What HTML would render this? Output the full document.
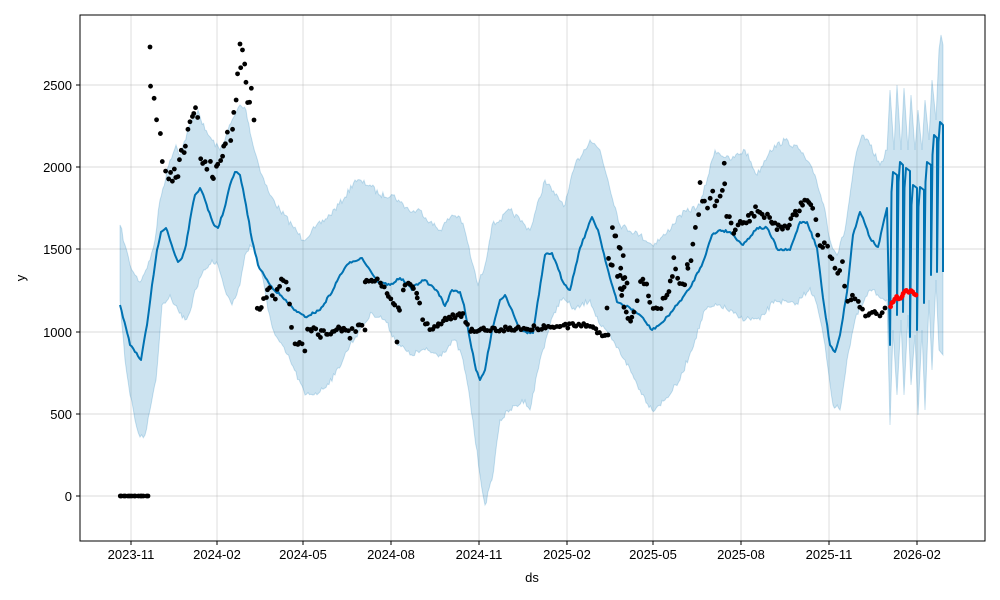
<!DOCTYPE html>
<html><head><meta charset="utf-8"><style>
body{margin:0;background:#fff;}
svg{display:block;font-family:"Liberation Sans","DejaVu Sans",sans-serif;}
</style></head><body>
<svg id="s" width="1000" height="600" viewBox="0 0 1000 600" xmlns="http://www.w3.org/2000/svg">
<rect width="1000" height="600" fill="#fff"/>
<g stroke="#b0b0b0" stroke-opacity="0.45" stroke-width="0.9">
<line x1="131" y1="15" x2="131" y2="541"/><line x1="217" y1="15" x2="217" y2="541"/>
<line x1="303" y1="15" x2="303" y2="541"/><line x1="391" y1="15" x2="391" y2="541"/>
<line x1="479" y1="15" x2="479" y2="541"/><line x1="567" y1="15" x2="567" y2="541"/>
<line x1="653" y1="15" x2="653" y2="541"/><line x1="741" y1="15" x2="741" y2="541"/>
<line x1="829" y1="15" x2="829" y2="541"/><line x1="917" y1="15" x2="917" y2="541"/>
<line x1="80" y1="496" x2="985" y2="496"/><line x1="80" y1="414" x2="985" y2="414"/>
<line x1="80" y1="332" x2="985" y2="332"/><line x1="80" y1="249" x2="985" y2="249"/>
<line x1="80" y1="167" x2="985" y2="167"/><line x1="80" y1="85" x2="985" y2="85"/>
</g>
<g id="band"></g>
<g id="line"></g>
<g id="dots"></g>
<rect x="80" y="15" width="905" height="526" fill="none" stroke="#000" stroke-width="1"/>
<g stroke="#000" stroke-width="1">
<line x1="131" y1="541" x2="131" y2="545"/><line x1="217" y1="541" x2="217" y2="545"/>
<line x1="303" y1="541" x2="303" y2="545"/><line x1="391" y1="541" x2="391" y2="545"/>
<line x1="479" y1="541" x2="479" y2="545"/><line x1="567" y1="541" x2="567" y2="545"/>
<line x1="653" y1="541" x2="653" y2="545"/><line x1="741" y1="541" x2="741" y2="545"/>
<line x1="829" y1="541" x2="829" y2="545"/><line x1="917" y1="541" x2="917" y2="545"/>
<line x1="76" y1="496" x2="80" y2="496"/><line x1="76" y1="414" x2="80" y2="414"/>
<line x1="76" y1="332" x2="80" y2="332"/><line x1="76" y1="249" x2="80" y2="249"/>
<line x1="76" y1="167" x2="80" y2="167"/><line x1="76" y1="85" x2="80" y2="85"/>
</g>
<g font-size="13" fill="#000" text-anchor="middle">
<text x="131" y="559">2023-11</text><text x="217" y="559">2024-02</text>
<text x="303" y="559">2024-05</text><text x="391" y="559">2024-08</text>
<text x="479" y="559">2024-11</text><text x="567" y="559">2025-02</text>
<text x="653" y="559">2025-05</text><text x="741" y="559">2025-08</text>
<text x="829" y="559">2025-11</text><text x="917" y="559">2026-02</text>
<text x="532" y="582">ds</text>
</g>
<g font-size="13" fill="#000" text-anchor="end">
<text x="72" y="501">0</text><text x="72" y="419">500</text><text x="72" y="337">1000</text>
<text x="72" y="254">1500</text><text x="72" y="172">2000</text><text x="72" y="90">2500</text>
</g>
<text x="25" y="278" font-size="13" text-anchor="middle" transform="rotate(-90 25 278)">y</text>
</svg>
<script>
var NS="http://www.w3.org/2000/svg";
function el(p,t,a){var e=document.createElementNS(NS,t);for(var k in a)e.setAttribute(k,a[k]);document.getElementById(p).appendChild(e);return e;}
var seed=7;function rnd(){seed=(seed*16807)%2147483647;return seed/2147483647;}
function rough(poly,amp){var out=[];for(var i=0;i<poly.length-1;i++){var a=poly[i],b=poly[i+1];var n=Math.max(1,Math.round(Math.abs(b[0]-a[0])/1.5));for(var k=0;k<n;k++){var t=k/n;out.push([a[0]+(b[0]-a[0])*t,a[1]+(b[1]-a[1])*t+(k?(rnd()-0.5)*amp:0)]);}}out.push(poly[poly.length-1]);return out;}
var upper=[[120,225],[125,245],[130,265],[135,275],[140,282],[150,260],[155,240],[160,200],[170,160],[176,145],[180,155],[190,125],[198,110],[205,130],[212,140],[220,150],[228,130],[235,115],[240,105],[246,110],[253,145],[262,175],[270,195],[280,210],[292,225],[303,240],[315,228],[330,215],[345,197],[355,180],[370,185],[380,195],[393,195],[400,202],[412,212],[420,210],[430,222],[440,230],[452,215],[460,217],[466,235],[472,262],[478,285],[485,265],[492,225],[500,220],[510,210],[525,225],[530,230],[545,180],[555,195],[565,205],[575,165],[590,140],[600,150],[608,180],[620,225],[640,235],[652,245],[665,235],[680,215],[700,205],[715,150],[730,160],[745,150],[757,175],[770,150],[785,140],[800,150],[815,175],[825,210],[830,240],[837,255],[845,230],[855,160],[862,135],[870,145],[880,165],[887,150]];
var up2=[[890,90],[894,150],[897,85],[901,150],[904,88],[908,150],[911,95],[915,150],[918,110],[922,150],[925,100],[929,140],[932,80],[936,120],[939,50],[941,35],[943,45]];
var lower=[[120,300],[125,360],[130,395],[135,420],[140,437],[145,435],[150,410],[156,380],[162,305],[170,295],[178,310],[185,320],[190,312],[195,290],[205,270],[212,260],[218,265],[225,290],[232,305],[240,285],[245,255],[250,245],[255,250],[262,275],[268,310],[275,335],[290,360],[305,395],[320,392],[335,375],[350,345],[360,330],[372,313],[385,320],[395,340],[410,355],[425,350],[440,355],[455,340],[463,360],[470,400],[480,475],[485,505],[492,480],[500,420],[510,410],[525,400],[530,410],[540,360],[550,325],[560,300],[565,300],[575,310],[590,300],[600,325],[612,340],[625,360],[640,390],[652,410],[665,400],[680,380],[695,340],[705,310],[720,305],[740,318],[760,320],[775,300],[795,305],[810,288],[817,305],[825,345],[833,405],[840,410],[847,360],[855,320],[870,290],[887,300]];
var lo2=[[890,425],[893,330],[897,395],[901,320],[904,395],[908,315],[911,385],[915,335],[918,415],[922,330],[925,410],[929,300],[932,370],[936,280],[939,350],[943,355]];
var U=rough(upper,6).concat(up2),L=rough(lower,6).concat(lo2);
var pts=U.concat(L.slice().reverse()).map(function(p){return p[0].toFixed(1)+","+p[1].toFixed(1)}).join(" ");
el("band","polygon",{points:pts,fill:"#0072B2","fill-opacity":"0.2",stroke:"#0072B2","stroke-opacity":"0.2","stroke-width":"1"});
var line=[[120,305],[126,328],[130,345],[135,352],[141,360],[147,325],[152,285],[157,250],[161,232],[166,228],[170,240],[175,255],[178,262],[182,258],[186,245],[190,220],[195,195],[200,188],[205,200],[208,210],[214,225],[218,228],[224,210],[230,185],[235,172],[240,175],[246,205],[252,240],[258,265],[264,275],[270,285],[280,295],[290,305],[297,312],[305,317],[320,310],[333,290],[340,275],[350,262],[362,258],[370,270],[378,282],[390,285],[400,278],[406,283],[412,290],[415,285],[425,280],[430,285],[438,292],[445,306],[452,290],[460,292],[464,305],[470,340],[476,370],[480,380],[485,370],[492,330],[500,300],[505,295],[512,310],[520,330],[526,332],[533,333],[545,255],[552,253],[563,282],[570,290],[580,248],[592,217],[598,230],[610,278],[617,302],[630,308],[640,315],[652,330],[663,322],[677,305],[690,288],[703,262],[712,235],[720,230],[730,232],[743,245],[757,228],[767,228],[778,250],[790,250],[800,222],[807,222],[817,248],[823,298],[830,345],[835,352],[840,335],[847,292],[853,235],[860,212],[863,218],[870,238],[878,247],[887,208]];
line=rough(line,2.5);
var segs=[[890,345,897,172],[897,315,903,162],[903,312,910,168],[910,337,917,185],[917,330,924,187],[924,303,931,162],[931,275,937,135],[937,272,943,122]];
segs.forEach(function(s){line.push([s[0],s[1]]);line.push([s[0]+1.5,s[3]+20]);line.push([s[0]+3,s[3]]);line.push([s[2],s[3]+3]);});
line.push([943,272]);
el("line","polyline",{points:line.map(function(p){return p[0].toFixed(1)+","+p[1].toFixed(1)}).join(" "),fill:"none",stroke:"#0072B2","stroke-width":"2","stroke-linejoin":"round"});
function walk(poly,step,jit,col){for(var i=0;i<poly.length-1;i++){var a=poly[i],b=poly[i+1];var n=Math.max(1,Math.round(Math.abs(b[0]-a[0])/step));for(var k=0;k<n;k++){var t=k/n;el("dots","circle",{cx:a[0]+(b[0]-a[0])*t+(rnd()-0.5)*1.5,cy:a[1]+(b[1]-a[1])*t+(rnd()-0.5)*jit,r:2.4,fill:col});}}var l=poly[poly.length-1];el("dots","circle",{cx:l[0],cy:l[1],r:2.4,fill:col});}
walk([[120,496],[148,496]],2,0,"#000");
[[150,47],[240,44]].forEach(function(p){el("dots","circle",{cx:p[0],cy:p[1],r:2.4,fill:"#000"});});
walk([[151,87],[154,100],[157,115],[160,135],[163,160],[166,175],[170,180],[174,177],[178,170],[182,155],[186,140],[190,125],[194,115],[198,110],[200,165],[205,160],[210,165],[214,175],[218,160],[222,150],[226,145],[230,135],[234,110],[238,80],[240,60],[242,55],[244,65],[246,80],[248,95],[250,110],[252,90],[254,120]],2.2,16,"#000");
walk([[257,310],[262,305],[266,298],[270,290],[275,298],[280,285],[284,280],[288,290],[292,325],[295,340],[300,345],[305,348],[308,330],[312,328],[320,335],[330,330],[340,330],[350,335],[355,328],[360,325],[365,330]],2.2,9,"#000");
walk([[365,282],[373,280],[380,282],[393,302],[400,308],[403,288],[410,282],[420,302],[423,322],[430,328],[437,327],[447,318],[457,315],[463,315],[470,330],[530,328],[592,325],[600,333],[608,335]],2.2,5,"#000");
el("dots","circle",{cx:397,cy:342,r:2.4,fill:"#000"});el("dots","circle",{cx:607,cy:308,r:2.4,fill:"#000"});
walk([[608,260],[613,263],[612,228],[623,255],[618,277],[627,282],[620,292],[630,322],[632,315],[637,302],[640,280],[647,288],[648,298],[653,305],[658,308],[663,302],[667,295],[673,278],[674,258],[680,285],[685,282],[687,262],[688,272],[693,245],[698,215],[700,185],[702,198],[707,208],[712,188],[715,205],[720,195],[722,188],[725,183],[724,167],[727,215],[733,230],[740,222],[750,218],[758,208],[767,218],[777,228],[787,225],[797,212],[807,198],[813,210],[820,242],[827,248],[832,262],[837,272],[842,265],[845,288],[848,302],[853,298],[858,305],[863,312],[870,317],[877,313],[880,318],[885,308]],2.1,8,"#000");
walk([[890,307],[895,298],[902,297],[907,290],[912,293],[916,295]],2,3,"#f00");
</script>
</body></html>
